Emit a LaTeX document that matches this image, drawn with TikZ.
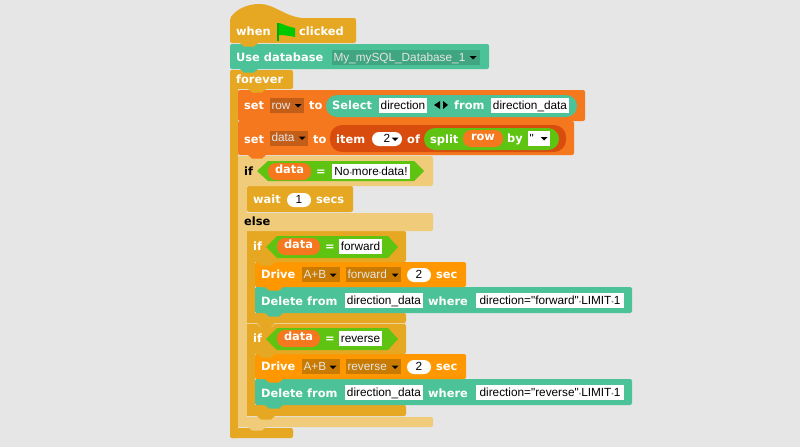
\documentclass[tikz,border=0pt]{standalone}
\usepackage{fontspec}
\setmainfont{DejaVu Sans}
\newfontfamily\fieldfont{Liberation Sans}
\definecolor{bgc}{HTML}{E6E6E6}
\definecolor{goldc}{HTML}{E6A822}
\definecolor{lightc}{HTML}{F0CB7A}
\definecolor{tealc}{HTML}{4CC298}
\definecolor{tealdark}{HTML}{3FA681}
\definecolor{orangec}{HTML}{F5781E}
\definecolor{orangedark}{HTML}{D84C0E}
\definecolor{rustc}{HTML}{C25E17}
\definecolor{greenc}{HTML}{5FC311}
\definecolor{drivec}{HTML}{FF9800}
\definecolor{drivedark}{HTML}{C97A00}
\definecolor{dotc}{HTML}{B08A90}
\definecolor{flagc}{HTML}{00C800}
\newcommand{\bump}[3]{\fill[#1] (#2+2,#3) -- (#2+6,#3+3.5) -- (#2+16,#3+3.5) -- (#2+20,#3) -- cycle;}
\newcommand{\ddarrow}[2]{\fill[black] (#1-3.5,#2-1.5) -- (#1+3.5,#2-1.5) -- (#1,#2+2) -- cycle;}
\newcommand{\dotsp}{{\fontsize{7}{7}\selectfont\color{dotc}•}}
\begin{document}
\begin{tikzpicture}[x=1pt, y=-1pt,
    blk/.style = {rounded corners=2pt},
    lbl/.style = {anchor=base west, inner sep=0, text=white, font=\fontsize{11.4}{12}\selectfont\bfseries},
    dark/.style = {lbl, text=black},
    fld/.style = {fill=white, text=black, inner sep=0, minimum height=15, text height=10, text depth=2.5, font=\fieldfont\fontsize{11.8}{12}\selectfont},
    dd/.style = {fld, minimum width=#1, text width=#1-3, align=left, inner xsep=1.5, text=white!90!black},
    pill/.style = {inner sep=0, rounded corners=7, minimum height=14, text height=10, text depth=2.5, fill=white, text=black, font=\fieldfont\fontsize{11.8}{12}\selectfont},
    var/.style = {lbl, anchor=center, rounded corners=8, fill=orangec, minimum height=17, text height=7, text depth=4}]

    \fill[bgc] (0,0) rectangle (800,447);
    \useasboundingbox (0,0) rectangle (800,447);

    % forever wrap
    \fill[goldc, blk] (230,70) rectangle (238,438);
    \fill[goldc, blk] (230,428) rectangle (293,438);
    \fill[goldc, blk] (230,70) rectangle (293,89);
    % outer if
    \fill[lightc] (238,156) rectangle (247,427);
    \fill[lightc, blk] (238,417) rectangle (433,427);
    \bump{lightc}{246}{427}
    % second inner if
    \fill[goldc] (247,324) rectangle (255,416);
    \fill[goldc, blk] (247,405) rectangle (406,416);
    \bump{goldc}{255}{416}
    \fill[tealc, blk] (255,379) rectangle (632,405);
    \bump{tealc}{263}{405}
    \fill[drivec, blk] (255,354) rectangle (466,379);
    \bump{drivec}{263}{379}
    \fill[goldc, blk] (247,324) rectangle (406,354);
    \bump{goldc}{255}{354}
    \fill[greenc] (266,339) -- (277,328) -- (388,328) -- (398,339) -- (388,350) -- (277,350) -- cycle;
    % first inner if
    \fill[goldc] (247,231) rectangle (255,323);
    \fill[goldc, blk] (247,313) rectangle (406,323);
    \bump{goldc}{255}{323}
    \draw[lightc, line width=.5] (247,323.5) -- (257,323.5) -- (260.5,327) (271.5,327) -- (275,323.5) -- (406,323.5);
    \fill[tealc, blk] (255,287) rectangle (632,313);
    \bump{tealc}{263}{313}
    \fill[drivec, blk] (255,262) rectangle (466,287);
    \bump{drivec}{263}{287}
    \fill[goldc, blk] (247,231) rectangle (406,262);
    \bump{goldc}{255}{262}
    \fill[greenc] (266,247) -- (277,236) -- (388,236) -- (398,247) -- (388,258) -- (277,258) -- cycle;
    % else, wait, if
    \fill[lightc, blk] (238,213) rectangle (433,231);
    \fill[goldc, blk] (247,186) rectangle (353,212);
    \fill[lightc, blk] (238,156) rectangle (433,186);
    \fill[greenc] (257,171) -- (268,161) -- (414,161) -- (424,171) -- (414,181) -- (268,181) -- cycle;
    % set blocks
    \fill[orangec, blk] (238,121) rectangle (574,155);
    \bump{orangec}{246}{155}
    \fill[orangedark, rounded corners=12] (330,125) rectangle (566,152);
    \fill[greenc, rounded corners=11] (424,128) rectangle (559,150);
    \fill[orangec, blk] (238,90) rectangle (585,121);
    \bump{orangec}{246}{121}
    \fill[tealc, rounded corners=11] (326,95) rectangle (577,117);
    \bump{goldc}{246}{89}
    % top of stack
    \fill[tealc, blk] (230,44) rectangle (489,69);
    \bump{tealc}{238}{69}
    \fill[goldc, rounded corners=2pt] (230,43) -- (230,18) [sharp corners] .. controls (238,8) and (248,4) .. (260,4) .. controls (274,4) and (284,16) .. (302,18) [rounded corners=2pt] -- (356,18) -- (356,43) -- cycle;
    \bump{goldc}{238}{43}

    % hat
    \node[lbl] (when) at (236,35) {when};
    \node[lbl] (clicked) at (299,35) {clicked};
    \fill[flagc!85!black] (277,23) rectangle (279,41);
    \fill[flagc] (279,23) .. controls (283,24) and (288,27) .. (295,28) -- (295,37) .. controls (290,36) and (285,35) .. (279,35) -- cycle;

    % database
    \node[lbl] (use) at (236,61) {Use database};
    \node[dd=148, fill=tealdark] (dbname) at (406,57.5) {My\_mySQL\_Database\_1};
    \ddarrow{473}{57.5}
    \node[lbl] (forever) at (236,83) {forever};

    % set row
    \node[lbl] (setrow) at (244,109) {set};
    \node[dd=34, fill=rustc] (rowvar) at (287,105.5) {row};
    \ddarrow{298}{105.5}
    \node[lbl] (torow) at (309,109) {to};
    \node[lbl] (select) at (332,109) {Select};
    \node[fld, minimum width=48] (direction) at (403,105.5) {direction};
    \fill[black] (434,105) -- (440,101) -- (440,109) -- cycle;
    \fill[black] (448,105) -- (443,101) -- (443,109) -- cycle;
    \node[lbl] (from) at (454,109) {from};
    \node[fld, minimum width=78] (table) at (530,105.5) {direction\_data};

    % set data
    \node[dd=38, fill=rustc] (datavar) at (289,138) {data};
    \node[lbl] (setdata) at (244,143) {set};
    \ddarrow{302}{138}
    \node[lbl] (todata) at (313,143) {to};
    \node[lbl] (item) at (336,143) {item};
    \node[pill, minimum width=30] (index) at (387,139) {2\hspace{8pt}};
    \ddarrow{395}{139}
    \node[lbl] (of) at (407,143) {of};
    \node[lbl] (split) at (430,143) {split};
    \node[var, minimum width=40] (row) at (483,138.5) {row};
    \node[lbl] (by) at (507,142) {by};
    \node[dd=22, fill=white, text=black] (sep) at (539,138.5) {"};
    \ddarrow{544}{138.5}

    % outer if
    \node[dark] (ifa) at (244,175) {if};
    \node[var, minimum width=43] (dataa) at (289.5,171.5) {data};
    \node[lbl] (eqa) at (316,175) {=};
    \node[fld, minimum width=78] (nomore) at (371,171.5) {No\dotsp more\dotsp data!};
    \node[lbl] (wait) at (253,203) {wait};
    \node[pill, minimum width=24] (secs) at (299,200) {1};
    \node[lbl] (secslbl) at (316,203) {secs};
    \node[dark] (else) at (244,225) {else};

    % forward branch
    \node[lbl] (ifb) at (253,250) {if};
    \node[var, minimum width=43] (datab) at (298.5,246.5) {data};
    \node[lbl] (eqb) at (325,250) {=};
    \node[fld, minimum width=43] (forward) at (360.5,246.5) {forward};
    \node[lbl] (driveb) at (261,278) {Drive};
    \node[dd=38, fill=drivedark] (motorb) at (321,274.5) {A+B};
    \ddarrow{333}{275}
    \node[dd=55, fill=drivedark] (dirb) at (373.5,274.5) {forward};
    \ddarrow{395}{275}
    \node[pill, minimum width=24] (timeb) at (419,275) {2};
    \node[lbl] (secb) at (436,278) {sec};
    \node[lbl] (deleteb) at (261,305) {Delete from};
    \node[fld, minimum width=78] (tableb) at (384,300.5) {direction\_data};
    \node[lbl] (whereb) at (428,305) {where};
    \node[fld, minimum width=148] (condb) at (550,300.5) {direction="forward"\dotsp LIMIT\dotsp 1};

    % reverse branch
    \node[lbl] (ifc) at (253,342) {if};
    \node[var, minimum width=43] (datac) at (298.5,338.5) {data};
    \node[lbl] (eqc) at (325,342) {=};
    \node[fld, minimum width=43] (reverse) at (360.5,338.5) {reverse};
    \node[lbl] (drivec) at (261,370) {Drive};
    \node[dd=38, fill=drivedark] (motorc) at (321,366.5) {A+B};
    \ddarrow{333}{367}
    \node[dd=55, fill=drivedark] (dirc) at (373.5,366.5) {reverse};
    \ddarrow{395}{367}
    \node[pill, minimum width=24] (timec) at (419,367) {2};
    \node[lbl] (secc) at (436,370) {sec};
    \node[lbl] (deletec) at (261,397) {Delete from};
    \node[fld, minimum width=78] (tablec) at (384,392.5) {direction\_data};
    \node[lbl] (wherec) at (428,397) {where};
    \node[fld, minimum width=148] (condc) at (550,392.5) {direction="reverse"\dotsp LIMIT\dotsp 1};

\end{tikzpicture}
\end{document}
